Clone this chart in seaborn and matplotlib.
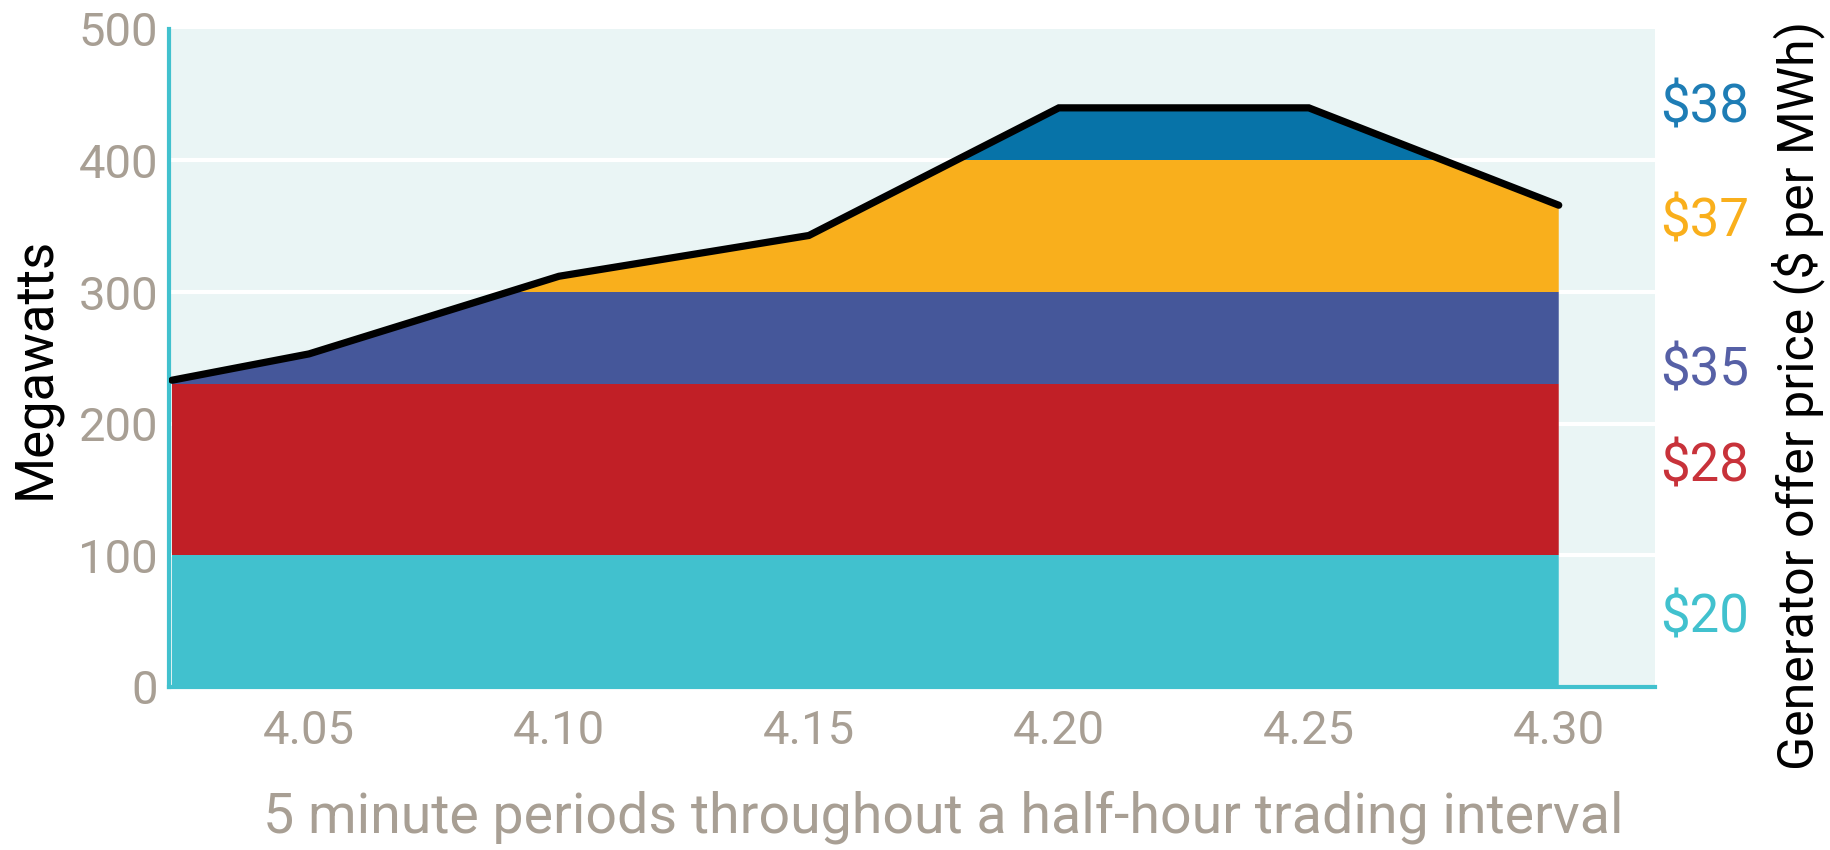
import numpy as np
import pandas as pd
import matplotlib
matplotlib.use("Agg")
import matplotlib.pyplot as plt
import seaborn as sns
from matplotlib.patches import Polygon

# ---- data ----
minutes = [2.26, 5, 10, 15, 20, 25, 30]          # minutes after 4.00
demand = [233, 253, 312, 343, 440, 440, 366]     # MW dispatched
tick_minutes = [5, 10, 15, 20, 25, 30]
tick_labels = ["4.05", "4.10", "4.15", "4.20", "4.25", "4.30"]
band_lower = [0, 100, 230, 300, 400]
band_upper = [100, 230, 300, 400, 500]
band_prices = ["$20", "$28", "$35", "$37", "$38"]
band_colors = ["#41C1CE", "#C11F26", "#45579A", "#F9AF1C", "#0773A8"]
label_colors = ["#41C1CE", "#C8323A", "#5660A6", "#F9AF1C", "#1E7DB5"]
label_y = [52, 167, 240, 353, 440]
yticks = [0, 100, 200, 300, 400, 500]

sns.set_theme(style="white")
plt.rcParams["font.family"] = ["Roboto", "DejaVu Sans"]
tick_grey = "#A89F94"
bg = "#EAF5F5"

fig = plt.figure(figsize=(18.31, 8.5), dpi=100)
ax = fig.add_axes([0.0923, 0.192, 0.904 - 0.0923, 0.966 - 0.192])
ax.set_facecolor(bg)
ax.set_axisbelow(False)

df = pd.DataFrame({"minute": minutes, "MW": demand})

# grid lines (below the areas)
for yv in yticks[1:-1]:
    ax.axhline(yv, color="white", lw=3, zorder=0.5)

# area under demand curve used as clip
poly_xy = [(minutes[0], 0)] + list(zip(minutes, demand)) + [(minutes[-1], 0)]
clip = Polygon(poly_xy, closed=True, transform=ax.transData, facecolor="none", edgecolor="none")
ax.add_patch(clip)
for lo, hi, c in zip(band_lower, band_upper, band_colors):
    span = ax.axhspan(lo, hi, xmin=0, xmax=1, color=c, lw=0, zorder=1)
    span.set_clip_path(clip)

sns.lineplot(data=df, x="minute", y="MW", color="black", lw=5.2, ax=ax, zorder=3,
             solid_joinstyle="miter")

ax.set_xlim(2.2, 31.93)
ax.set_ylim(0, 500)
ax.set_xticks(tick_minutes)
ax.set_xticklabels(tick_labels)
ax.set_yticks(yticks)
ax.tick_params(axis="x", direction="in", length=7, width=2, color="white",
               labelsize=34, labelcolor=tick_grey, pad=16)
ax.tick_params(axis="y", length=0, labelsize=34, labelcolor=tick_grey, pad=8)
ax.set_xlabel("")
ax.set_ylabel("")

for s in ["top", "right"]:
    ax.spines[s].set_visible(False)
ax.spines["left"].set_color("#41C1CE")
ax.spines["left"].set_linewidth(3)
ax.spines["bottom"].set_color("#41C1CE")
ax.spines["bottom"].set_linewidth(3)
ax.spines["bottom"].set_zorder(0.6)

# price labels on the right
for txt, yv, c in zip(band_prices, label_y, label_colors):
    ax.text(1.003, yv, txt, transform=ax.get_yaxis_transform(), color=c,
            fontsize=38, ha="left", va="center", clip_on=False)

fig.text(0.019, 0.567, "Megawatts", rotation=90, ha="center", va="center",
         fontsize=38, color="black")
fig.text(0.982, 0.535, "Generator offer price ($ per MWh)", rotation=90, ha="center",
         va="center", fontsize=36, color="black")
fig.text(0.515, 0.039, "5 minute periods throughout a half-hour trading interval",
         ha="center", va="center", fontsize=40, color=tick_grey)

fig.savefig("out.png", dpi=100)
